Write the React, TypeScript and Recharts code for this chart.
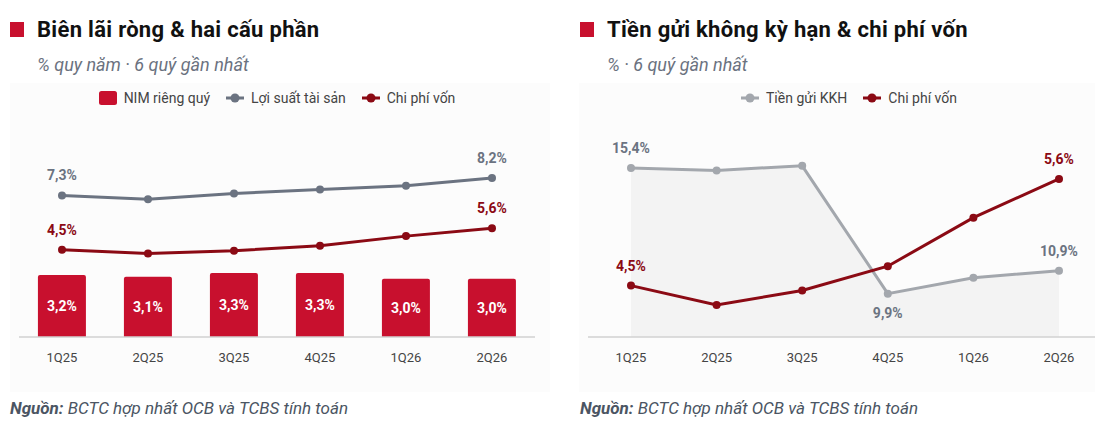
import React from 'react';
import {
  ComposedChart,
  Bar,
  Line,
  Area,
  XAxis,
  YAxis,
  Legend,
  LabelList,
} from 'recharts';

// 6 quý gần nhất
const quarters = ['1Q25', '2Q25', '3Q25', '4Q25', '1Q26', '2Q26'];
const nimQuarter = [3.2, 3.1, 3.3, 3.3, 3.0, 3.0];
const assetYield = [7.3, 7.1, 7.4, 7.6, 7.8, 8.2];
const costOfFunds = [4.5, 4.3, 4.45, 4.7, 5.2, 5.6];
const casaRatio = [15.4, 15.3, 15.5, 9.9, 10.6, 10.9];

const leftData = quarters.map((q, i) => ({
  q,
  nim: nimQuarter[i],
  yield: assetYield[i],
  cof: costOfFunds[i],
}));

const rightData = quarters.map((q, i) => ({
  q,
  casa: casaRatio[i],
  cof: costOfFunds[i],
}));

const RED = '#c8102e';
const DARK_RED = '#8b0a14';
const SLATE = '#6b7381';
const LIGHT_GRAY = '#a3a7ad';
const FONT = 'Roboto, "Noto Sans", sans-serif';

const fmt = (v: number) => v.toFixed(1).replace('.', ',') + '%';

// label only at selected points
const pointLabel = (show: number[], color: string, below = false) => (props: any) => {
  const { x, y, value, index } = props;
  if (!show.includes(index)) return null;
  return (
    <text
      x={x}
      y={below ? y + 24 : y - 15}
      textAnchor="middle"
      fill={color}
      fontSize={14}
      fontWeight={700}
      fontFamily={FONT}
    >
      {fmt(Number(value))}
    </text>
  );
};

type LegendItem = { label: string; color: string; kind: 'bar' | 'line' };

const legendContent = (items: LegendItem[], shift = 0) => () => (
  <div
    style={{
      display: 'flex',
      justifyContent: 'center',
      alignItems: 'center',
      paddingTop: 7,
      paddingLeft: shift,
      fontFamily: FONT,
      fontSize: 14,
      color: '#444',
      lineHeight: '16px',
    }}
  >
    {items.map((it) => (
      <div key={it.label} style={{ display: 'flex', alignItems: 'center', margin: '0 8px' }}>
        <svg width={18} height={14} style={{ marginRight: 7 }}>
          {it.kind === 'bar' ? (
            <rect x={0} y={0} width={18} height={14} rx={2.5} fill={it.color} />
          ) : (
            <>
              <line x1={0} y1={7} x2={18} y2={7} stroke={it.color} strokeWidth={3} />
              <circle cx={9} cy={7} r={4.5} fill={it.color} />
            </>
          )}
        </svg>
        <span>{it.label}</span>
      </div>
    ))}
  </div>
);

const Header = ({ left, title, sub }: { left: number; title: string; sub: string }) => (
  <>
    <div style={{ position: 'absolute', left, top: 22, width: 14, height: 15, background: RED }} />
    <div
      style={{
        position: 'absolute',
        left: left + 27,
        top: 16,
        fontFamily: FONT,
        fontSize: 22,
        fontWeight: 700,
        letterSpacing: 0.3,
        color: '#111',
        lineHeight: '28px',
        whiteSpace: 'nowrap',
      }}
    >
      {title}
    </div>
    <div
      style={{
        position: 'absolute',
        left: left + 27,
        top: 55,
        fontFamily: FONT,
        fontSize: 18,
        fontStyle: 'italic',
        color: '#6b7280',
        lineHeight: '20px',
        whiteSpace: 'nowrap',
      }}
    >
      {sub}
    </div>
  </>
);

const Footer = ({ left }: { left: number }) => (
  <div
    style={{
      position: 'absolute',
      left,
      top: 398,
      fontFamily: FONT,
      fontSize: 17,
      fontStyle: 'italic',
      color: '#4b5563',
      lineHeight: '20px',
      whiteSpace: 'nowrap',
    }}
  >
    <b>Nguồn:</b> BCTC hợp nhất OCB và TCBS tính toán
  </div>
);

const axisProps = {
  dataKey: 'q',
  tickLine: false,
  axisLine: { stroke: '#d2d2d2', strokeWidth: 1.5 },
  tick: { fill: '#444', fontSize: 13, fontFamily: FONT },
  tickMargin: 10,
  height: 30,
  interval: 0 as const,
};

export default function App() {
  return (
    <div
      style={{
        position: 'absolute',
        left: 0,
        top: 0,
        width: 1095,
        height: 436,
        overflow: 'hidden',
        background: '#fff',
      }}
    >
      <Header left={10} title="Biên lãi ròng & hai cấu phần" sub="% quy năm · 6 quý gần nhất" />
      <Header left={580} title="Tiền gửi không kỳ hạn & chi phí vốn" sub="% · 6 quý gần nhất" />

      <div style={{ position: 'absolute', left: 10, top: 83, width: 540, height: 309, background: '#fcfcfc' }}>
        <ComposedChart
          width={540}
          height={309}
          data={leftData}
          margin={{ top: 0, right: 15, bottom: 25, left: 9 }}
          barCategoryGap="22%"
        >
          <Legend
            verticalAlign="top"
            height={60}
            content={legendContent([
              { label: 'NIM riêng quý', color: RED, kind: 'bar' },
              { label: 'Lợi suất tài sản', color: SLATE, kind: 'line' },
              { label: 'Chi phí vốn', color: DARK_RED, kind: 'line' },
            ])}
          />
          <XAxis {...axisProps} />
          <YAxis hide domain={[0, 10]} />
          <Bar dataKey="nim" fill={RED} radius={[2, 2, 0, 0]} isAnimationActive={false}>
            <LabelList
              dataKey="nim"
              position="center"
              formatter={(v: any) => fmt(Number(v))}
              fill="#fff"
              fontSize={14}
              fontWeight={700}
              fontFamily={FONT}
            />
          </Bar>
          <Line
            dataKey="yield"
            stroke={SLATE}
            strokeWidth={3}
            dot={{ r: 4, fill: SLATE, stroke: SLATE, strokeWidth: 0 }}
            isAnimationActive={false}
          >
            <LabelList dataKey="yield" content={pointLabel([0, 5], SLATE)} />
          </Line>
          <Line
            dataKey="cof"
            stroke={DARK_RED}
            strokeWidth={3}
            dot={{ r: 4, fill: DARK_RED, stroke: DARK_RED, strokeWidth: 0 }}
            isAnimationActive={false}
          >
            <LabelList dataKey="cof" content={pointLabel([0, 5], DARK_RED)} />
          </Line>
        </ComposedChart>
      </div>

      <div style={{ position: 'absolute', left: 579, top: 83, width: 540, height: 309, background: '#fcfcfc' }}>
        <ComposedChart
          width={540}
          height={309}
          data={rightData}
          margin={{ top: 0, right: 17, bottom: 25, left: 9 }}
        >
          <Legend
            verticalAlign="top"
            height={60}
            content={legendContent([
              { label: 'Tiền gửi KKH', color: LIGHT_GRAY, kind: 'line' },
              { label: 'Chi phí vốn', color: DARK_RED, kind: 'line' },
            ], 8)}
          />
          <XAxis {...axisProps} padding={{ left: 43, right: 43 }} />
          <YAxis yAxisId="casa" hide domain={[8, 16.5]} />
          <YAxis yAxisId="cof" hide domain={[3.97, 5.97]} />
          <Area
            yAxisId="casa"
            type="linear"
            dataKey="casa"
            stroke={LIGHT_GRAY}
            strokeWidth={3}
            fill="#f3f3f3"
            fillOpacity={1}
            dot={{ r: 4, fill: LIGHT_GRAY, stroke: LIGHT_GRAY, strokeWidth: 0 }}
            isAnimationActive={false}
          >
            <LabelList dataKey="casa" content={pointLabel([0, 5], SLATE)} />
            <LabelList dataKey="casa" content={pointLabel([3], SLATE, true)} />
          </Area>
          <Line
            yAxisId="cof"
            dataKey="cof"
            stroke={DARK_RED}
            strokeWidth={3}
            dot={{ r: 4, fill: DARK_RED, stroke: DARK_RED, strokeWidth: 0 }}
            isAnimationActive={false}
          >
            <LabelList dataKey="cof" content={pointLabel([0, 5], DARK_RED)} />
          </Line>
        </ComposedChart>
      </div>

      <Footer left={10} />
      <Footer left={580} />
    </div>
  );
}
